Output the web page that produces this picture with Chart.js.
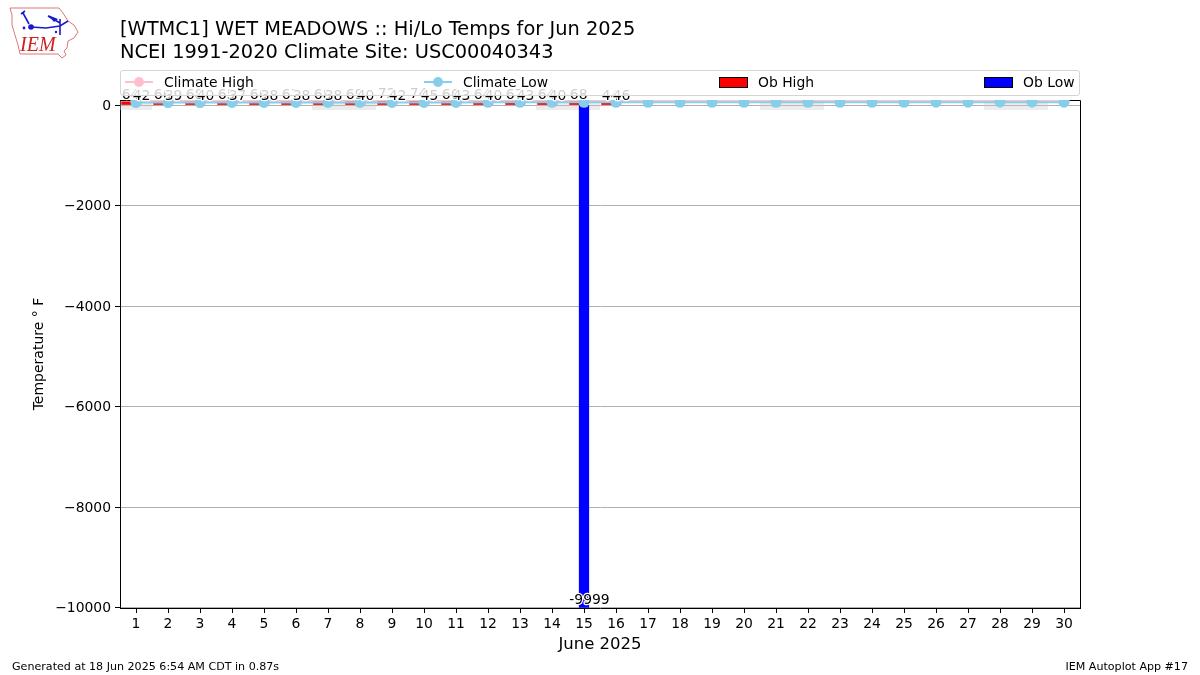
<!DOCTYPE html>
<html>
<head>
<meta charset="utf-8">
<title>WET MEADOWS Hi/Lo Temps</title>
<script src="https://cdn.jsdelivr.net/npm/chart.js@4"></script>
<style>
  html, body { margin: 0; padding: 0; background: #fff; }
  body { width: 1200px; height: 675px; position: relative; overflow: hidden; font-family: "DejaVu Sans", sans-serif; color: #000; }
  #chartBox { position: absolute; left: 0; top: 0; width: 1200px; height: 675px; }
  #title { position: absolute; left: 120px; top: 18px; font-size: 19.4px; line-height: 22.5px; white-space: nowrap; }
  #legend { position: absolute; left: 120px; top: 70px; width: 958px; height: 24px; border: 1px solid #d5d5d5; border-radius: 3px; background: rgba(255, 255, 255, 0.8); font-size: 13.9px; }
  .item { position: absolute; top: 3px; line-height: 17px; white-space: nowrap; }
  .key { position: absolute; }
  .foot { position: absolute; top: 660px; font-size: 11.1px; white-space: nowrap; }
  #logo { position: absolute; left: 8px; top: 5px; }
</style>
</head>
<body>
<div id="chartBox"><canvas id="tempChart" width="1200" height="675"></canvas></div>
<svg id="logo" width="74" height="56" viewBox="0 0 74 56">
  <path d="M2 3 L51 3 L55 8 L60 16 L66 20 L70 27 L66 33 L60 36 L59 43 L56 46 L58 50 L54 53 L50 49 L12 49 L10 40 L7 30 L4 20 L4 10 Z" fill="none" stroke="#dd7777" stroke-width="1"/>
  <path d="M23 22 L38 23 L52 21 L60 16 M40 11 L52 18 M52 14 L52 30 M15 8 L21 19 M13 9 L17 6" fill="none" stroke="#1a1acc" stroke-width="1.6"/>
  <circle cx="23" cy="22" r="2.8" fill="#1a1acc"/>
  <path d="M40 10 L50 14 L46 17 Z" fill="#1a1acc"/>
  <circle cx="16" cy="23" r="1.4" fill="#1a1acc"/>
  <circle cx="48" cy="27" r="1.2" fill="#1a1acc"/>
  <text x="12" y="46" font-family="Liberation Serif" font-style="italic" font-size="20" fill="#cc2222">IEM</text>
</svg>
<div id="title">[WTMC1] WET MEADOWS :: Hi/Lo Temps for Jun 2025<br>NCEI 1991-2020 Climate Site: USC00040343</div>
<div id="legend">
  <svg class="key" style="left:4px;top:5px" width="30" height="12"><line x1="0" y1="6" x2="28" y2="6" stroke="#ffc0cb" stroke-width="2"/><circle cx="14" cy="6" r="5" fill="#ffc0cb"/></svg>
  <span class="item" style="left:43px">Climate High</span>
  <svg class="key" style="left:303px;top:5px" width="30" height="12"><line x1="0" y1="6" x2="28" y2="6" stroke="#87ceeb" stroke-width="2"/><circle cx="14" cy="6" r="5" fill="#87ceeb"/></svg>
  <span class="item" style="left:342px">Climate Low</span>
  <span class="key" style="left:598px;top:6px;width:27px;height:9px;background:#f00;border:1px solid #000"></span>
  <span class="item" style="left:637px">Ob High</span>
  <span class="key" style="left:863px;top:6px;width:27px;height:9px;background:#00f;border:1px solid #000"></span>
  <span class="item" style="left:902px">Ob Low</span>
</div>
<div class="foot" style="left:12px">Generated at 18 Jun 2025 6:54 AM CDT in 0.87s</div>
<div class="foot" style="right:12px">IEM Autoplot App #17</div>

<script>
// Values
const days = ['1','2','3','4','5','6','7','8','9','10','11','12','13','14','15','16','17','18','19','20','21','22','23','24','25','26','27','28','29','30'];
const obHigh = [64,66,68,65,66,67,68,69,72,74,66,64,67,64,68,44];
const obLow = [42,39,40,37,38,38,38,40,42,45,43,40,43,40,-9999,46];
const climateHigh = [86,86,86,87,87,87,87,88,88,88,88,88,89,89,89,89,89,90,90,90,90,90,90,91,91,91,91,91,92,92];
const climateLow = [50,50,50,51,51,51,51,52,52,52,52,53,53,53,53,53,54,54,54,54,54,55,55,55,55,56,56,56,56,57];
const weekendDays = ['1','7','8','14','15','21','22','28','29'];
const yTicks = [-10000,-8000,-6000,-4000,-2000,0];

const tickFont = { family: 'DejaVu Sans', size: 13.9 };

// Top and right frame, weekend shading (goes under the bars and lines)
const underlay = {
  id: 'underlay',
  beforeDatasetsDraw(chart) {
    const { ctx, chartArea: a, scales: { x, y } } = chart;
    const half = (x.getPixelForValue(1) - x.getPixelForValue(0)) / 2;
    ctx.save();
    ctx.fillStyle = 'rgba(200, 200, 200, 0.35)';
    weekendDays.forEach(d => {
      const left = Math.max(x.getPixelForValue(days.indexOf(d)) - half, a.left);
      ctx.fillRect(left, y.getPixelForValue(100), x.getPixelForValue(days.indexOf(d)) + half - left, y.getPixelForValue(-100) - y.getPixelForValue(100));
    });
    ctx.strokeStyle = '#000';
    ctx.lineWidth = 1;
    ctx.beginPath();
    ctx.moveTo(a.left, a.top + 0.5);
    ctx.lineTo(a.right + 0.5, a.top + 0.5);
    ctx.lineTo(a.right + 0.5, a.bottom + 1);
    ctx.stroke();
    ctx.restore();
  }
};

// Value labels with a white halo above each bar end
const barLabels = {
  id: 'barLabels',
  afterDatasetsDraw(chart) {
    const { ctx, scales: { x, y } } = chart;
    const put = (values, shift) => values.forEach((v, i) => {
      const px = x.getPixelForValue(i) + shift;
      const py = y.getPixelForValue(v) - 3;
      ctx.strokeText(String(v), px, py);
      ctx.fillText(String(v), px, py);
    });
    ctx.save();
    ctx.font = '13.9px "DejaVu Sans"';
    ctx.textAlign = 'center';
    ctx.textBaseline = 'alphabetic';
    ctx.fillStyle = '#000';
    ctx.strokeStyle = '#fff';
    ctx.lineWidth = 2.5;
    ctx.lineJoin = 'round';
    put(obHigh, -5.3);
    put(obLow, 5.5);
    ctx.restore();
  }
};

const ctx = document.getElementById('tempChart').getContext('2d');
const tempChart = new Chart(ctx, {
  data: {
    labels: days,
    datasets: [
      { type: 'line', label: 'Climate Low', data: climateLow, borderColor: '#87ceeb', backgroundColor: '#87ceeb', borderWidth: 2, pointRadius: 5.5, pointBorderWidth: 0, order: 0, clip: 0 },
      { type: 'line', label: 'Climate High', data: climateHigh, borderColor: '#ffc0cb', backgroundColor: '#ffc0cb', borderWidth: 2, pointRadius: 5.5, pointBorderWidth: 0, order: 1, clip: 0 },
      { type: 'bar', label: 'Ob High', data: obHigh, backgroundColor: '#ff0000', barThickness: 9.6, order: 2 },
      { type: 'bar', label: 'Ob Low', data: obLow, backgroundColor: '#0000ff', barThickness: 9.6, order: 3 },
      // empty third slot, keeps Ob Low centred on its tick
      { type: 'bar', label: '', data: [], barThickness: 9.6, order: 4 }
    ]
  },
  options: {
    responsive: false,
    animation: false,
    layout: { padding: { left: 0, right: 120, top: 100, bottom: 0 } },
    plugins: { legend: { display: false }, title: { display: false }, tooltip: { enabled: false } },
    scales: {
      x: {
        type: 'category',
        offset: true,
        afterFit: s => { s.height = 67; },
        grid: { offset: false, drawOnChartArea: false, color: '#000', tickColor: '#000', tickLength: 5 },
        border: { color: '#000', width: 1 },
        ticks: { color: '#000', font: tickFont, maxRotation: 0, autoSkip: false, padding: 3 },
        title: { display: true, text: 'June 2025', color: '#000', font: { family: 'DejaVu Sans', size: 16.5 }, padding: { top: 4, bottom: 20 } }
      },
      y: {
        min: -10010,
        max: 100,
        afterFit: s => { s.width = 120; },
        afterBuildTicks: s => { s.ticks = yTicks.map(v => ({ value: v })); },
        grid: { color: '#b0b0b0', tickColor: '#000', tickLength: 5, lineWidth: 1 },
        border: { color: '#000', width: 1 },
        ticks: {
          color: '#000',
          font: tickFont,
          padding: 4,
          labelOffset: 1,
          callback: v => String(v).replace('-', '\u2212')
        },
        title: { display: true, text: 'Temperature \u00b0 F', color: '#000', font: { family: 'DejaVu Sans', size: 14 }, padding: { top: 31, bottom: 0 } }
      }
    }
  },
  plugins: [underlay, barLabels]
});
</script>
</body>
</html>
